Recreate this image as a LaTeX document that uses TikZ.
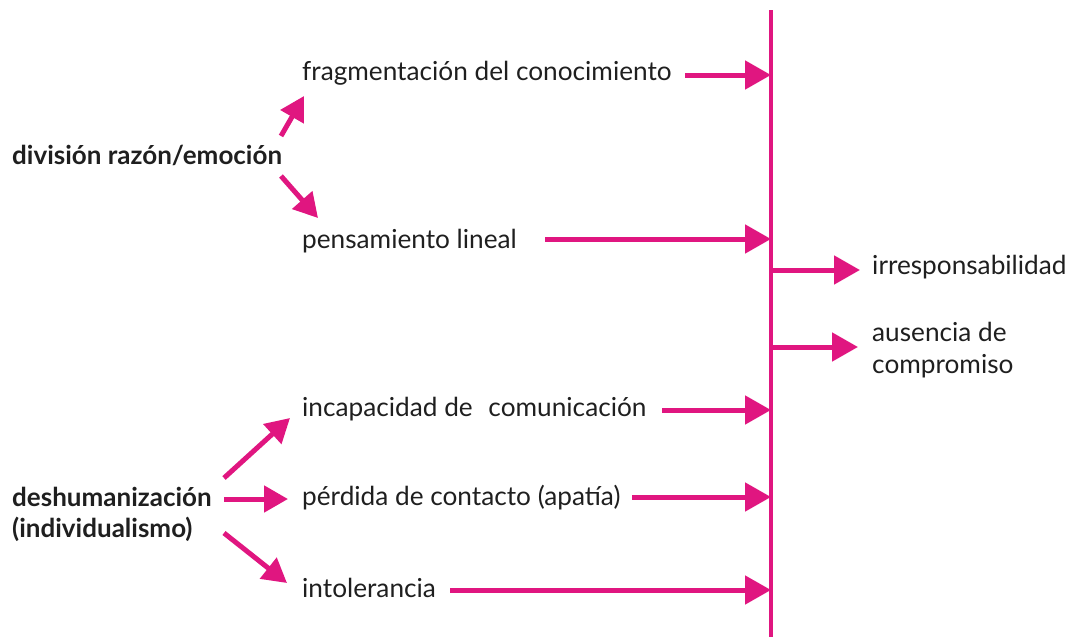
\documentclass[tikz,border=0pt]{standalone}
\usepackage{fontspec}
\setmainfont{Lato}
\usetikzlibrary{arrows.meta}
\definecolor{mag}{RGB}{224,22,128}
\begin{document}
\begin{tikzpicture}[x=1pt,y=-1pt,
  lbl/.style={anchor=base west,inner sep=0pt,font=\fontsize{26.2}{32}\selectfont,text=black!88},
  blbl/.style={lbl,font=\fontsize{26}{30.5}\selectfont\bfseries,align=left},
  arr/.style={draw=mag,line width=5pt,-{Triangle[length=26pt,width=28pt]}},
  darr/.style={draw=mag,line width=5pt,-{Triangle[length=24pt,width=26pt]}}]
\useasboundingbox (0,0) rectangle (1075,637);
\coordinate (top) at (771,10);
\coordinate (bot) at (771,637);
\draw[mag,line width=4.5pt] (top) -- (bot);
% left nodes
\node[blbl] (div) at (12,164) {división razón/emoción};
\node[blbl,anchor=north west] (des) at (12,487) {deshumanización\\(individualismo)};
% middle nodes
\node[lbl] (frag) at (302,80) {fragmentación del conocimiento};
\node[lbl] (pens) at (302,248) {pensamiento lineal};
\node[lbl] (inca) at (302,416) {incapacidad de\hspace{0.6em}comunicación};
\node[lbl] (perd) at (302,505) {pérdida de contacto (apatía)};
\node[lbl] (into) at (302,597) {intolerancia};
% right nodes
\node[lbl] (irr) at (872,274) {irresponsabilidad};
\node[lbl,align=left,anchor=north west] (aus) at (872,322) {ausencia de\\compromiso};
% connectors to the bar
\coordinate (t1) at (771,75);
\coordinate (t2) at (771,239);
\coordinate (t5) at (771,410);
\coordinate (t6) at (771,497);
\coordinate (t7) at (771,590);
\draw[arr] (685,75) -- (t1);
\draw[arr] (545,239) -- (t2);
\draw[arr] (662,410) -- (t5);
\draw[arr] (632,497) -- (t6);
\draw[arr] (450,590) -- (t7);
% from the bar
\coordinate (s3) at (771,270);
\coordinate (s4) at (771,347);
\draw[arr] (s3) -- (860,270);
\draw[arr] (s4) -- (858,347);
% diagonal arrows
\draw[darr] (281,136) -- (304,96);
\draw[darr] (281,176) -- (318,218);
\draw[darr] (224,478) -- (290,418);
\draw[darr] (224,499) -- (288,499);
\draw[darr] (224,533) -- (287,583);
\end{tikzpicture}
\end{document}
